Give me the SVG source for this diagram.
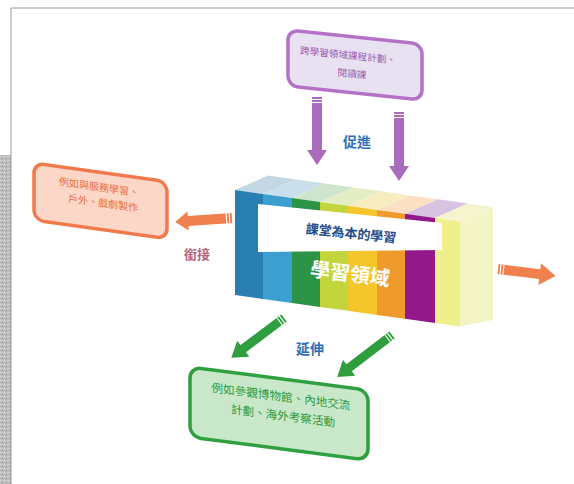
<svg xmlns="http://www.w3.org/2000/svg" width="574" height="484" viewBox="0 0 574 484">
<defs>
<style>
text{font-family:"Liberation Sans","Noto Sans CJK TC",sans-serif;text-anchor:middle}
.lbl{font-size:14px;font-weight:bold;fill:#2f6fb5}
.pt{font-size:9.6px;fill:#9a5cb0}
.ot{font-size:10px;fill:#e8704a}
.gt{font-size:11.6px;fill:#2e9a40}
.stripe{stroke:#fff;stroke-width:1.1}
</style>
<pattern id="grain" width="4" height="4" patternUnits="userSpaceOnUse">
<rect width="4" height="4" fill="#bdbdbd"/>
<rect x="0" y="0" width="1" height="1" fill="#e2e2e2"/>
<rect x="2" y="2" width="1" height="1" fill="#8f8f8f"/>
<rect x="3" y="1" width="1" height="1" fill="#dadada"/>
</pattern>
</defs>
<rect width="574" height="484" fill="#fff"/>
<rect x="0" y="155" width="11" height="329" fill="url(#grain)"/>
<path d="M11,484 V8 H574" fill="none" stroke="#9c9c9c" stroke-width="1"/>

<g id="cube">
<g id="top-face">
<polygon points="235,190 263,193.9 296,179.4 268,175.5" fill="#c3d7e5"/>
<polygon points="263,193.9 292,198 325,183.5 296,179.4" fill="#c9dfe9"/>
<polygon points="292,198 320,201.9 353,187.4 325,183.5" fill="#cfe4cd"/>
<polygon points="320,201.9 348,205.8 381,191.3 353,187.4" fill="#e3eec4"/>
<polygon points="348,205.8 377,209.9 410,195.4 381,191.3" fill="#f7edc0"/>
<polygon points="377,209.9 405,213.8 438,199.3 410,195.4" fill="#fbe0c4"/>
<polygon points="405,213.8 435,218 468,203.5 438,199.3" fill="#d9c3e3"/>
<polygon points="435,218 460,221.5 493,207 468,203.5" fill="#f6f4cf"/>
</g>
<g id="front-face">
<polygon points="235,190 263,193.9 263,298.9 235,295" fill="#2a7fb2"/>
<polygon points="263,193.9 292,198 292,303 263,298.9" fill="#3c9fd0"/>
<polygon points="292,198 320,201.9 320,306.9 292,303" fill="#2d9447"/>
<polygon points="320,201.9 348,205.8 348,310.8 320,306.9" fill="#c2d53c"/>
<polygon points="348,205.8 377,209.9 377,314.9 348,310.8" fill="#f4c62c"/>
<polygon points="377,209.9 405,213.8 405,318.8 377,314.9" fill="#ee9a2c"/>
<polygon points="405,213.8 435,218 435,323 405,318.8" fill="#93198b"/>
<polygon points="435,218 460,221.5 460,326.5 435,323" fill="#eff08c"/>
</g>
<polygon id="side-face" points="460,221.5 493,207 493,320 460,326.5" fill="#f4f5c6"/>
<polygon id="band" points="258,204 442,223 442,250 258,252" fill="#fff"/>
<text x="351" y="238" transform="rotate(6 351 233)" style="font-size:13px;font-weight:bold;fill:#1f4e8c">課堂為本的學習</text>
<text x="350" y="281" transform="rotate(7 350 274)" style="font-size:20px;font-weight:bold;fill:#fff">學習領域</text>
</g>

<g id="node-purple">
<g transform="translate(288 30) skewY(6) translate(-288 -30)">
<rect x="288" y="30" width="134" height="56" rx="10" fill="#e8e1f1" stroke="#b472c6" stroke-width="3.5"/>
<text class="pt" x="348" y="52.5">跨學習領域課程計劃、</text>
<text class="pt" x="352" y="70.5">閱讀課</text>
</g>
</g>

<g id="node-orange">
<g transform="translate(34 163) skewY(8) translate(-34 -163)">
<rect x="34" y="163" width="133" height="57" rx="10" fill="#fcd6c6" stroke="#f07a4e" stroke-width="3.5"/>
<text class="ot" x="99" y="181.5">例如與服務學習、</text>
<text class="ot" x="103" y="197">戶外、戲劇製作</text>
</g>
</g>

<g id="node-green">
<g transform="translate(190 367) skewY(7.4) translate(-190 -367)">
<rect x="190" y="367" width="178" height="70" rx="11" fill="#c9e8c9" stroke="#2ea040" stroke-width="3.5"/>
<text class="gt" x="281" y="389">例如參觀博物館、內地交流</text>
<text class="gt" x="283" y="408">計劃、海外考察活動</text>
</g>
</g>

<g id="connectors">
<g fill="#ab6bbd">
<g transform="translate(317 97) rotate(90)">
<path d="M0,-5 L53,-5 L53,-10 L68,0 L53,10 L53,5 L0,5Z"/>
<path class="stripe" d="M2.5,-5V5M5.5,-5V5"/>
</g>
<g transform="translate(399 112) rotate(90)">
<path d="M0,-5 L54,-5 L54,-10 L69,0 L54,10 L54,5 L0,5Z"/>
<path class="stripe" d="M2.5,-5V5M5.5,-5V5"/>
</g>
</g>
<g fill="#f0804e">
<g transform="translate(232 218) rotate(176)">
<path d="M0,-5 L44,-5 L44,-9.5 L57,0 L44,9.5 L44,5 L0,5Z"/>
<path class="stripe" d="M2.5,-5V5M5.5,-5V5"/>
</g>
<g transform="translate(498 269) rotate(7)">
<path d="M0,-5 L42,-5 L42,-11 L58,0 L42,11 L42,5 L0,5Z"/>
<path class="stripe" d="M2.5,-5V5M5.5,-5V5"/>
</g>
</g>
<g fill="#2e9e3e">
<g transform="translate(284 318) rotate(143)">
<path d="M0,-4.5 L51,-4.5 L51,-10 L66,0 L51,10 L51,4.5 L0,4.5Z"/>
<path class="stripe" d="M2.5,-4.5V4.5M5.5,-4.5V4.5"/>
</g>
<g transform="translate(392 335) rotate(142.6)">
<path d="M0,-4.5 L54,-4.5 L54,-10 L69,0 L54,10 L54,4.5 L0,4.5Z"/>
<path class="stripe" d="M2.5,-4.5V4.5M5.5,-4.5V4.5"/>
</g>
</g>
<text class="lbl" x="357" y="147">促進</text>
<text class="lbl" x="310" y="354">延伸</text>
<text x="197" y="259" style="font-size:13px;font-weight:bold;fill:#b5647a">銜接</text>
</g>
</svg>
